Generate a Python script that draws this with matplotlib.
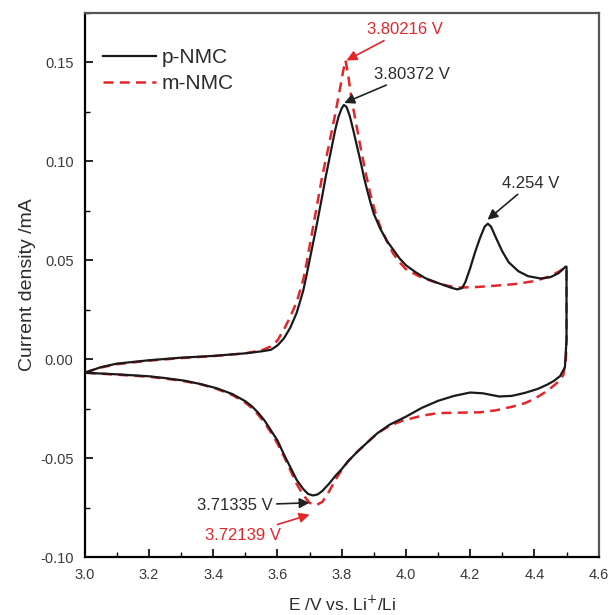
import matplotlib
matplotlib.use("Agg")
import matplotlib.pyplot as plt
from matplotlib.ticker import MultipleLocator, FormatStrFormatter

plt.rcParams["font.family"] = ["Liberation Sans", "DejaVu Sans"]

# --------------------------------
# CV DATA
# --------------------------------

# p-NMC, anodic sweep 3.0 -> 4.5 V
p_fwd_v = [3.00, 3.05, 3.10, 3.20, 3.30, 3.40, 3.50, 3.55, 3.58, 3.60, 3.62, 3.64,
           3.66, 3.68, 3.69, 3.70, 3.71, 3.72, 3.73, 3.74, 3.75, 3.76, 3.77, 3.78,
           3.79, 3.80, 3.807, 3.815, 3.825, 3.835, 3.85, 3.86, 3.87, 3.88, 3.89,
           3.90, 3.92, 3.94, 3.96, 3.98, 4.00, 4.03, 4.06, 4.10, 4.14, 4.16, 4.175,
           4.185, 4.20, 4.215, 4.23, 4.245, 4.255, 4.265, 4.28, 4.30, 4.32, 4.35,
           4.38, 4.42, 4.45, 4.475, 4.497]
p_fwd_i = [-0.0068, -0.0040, -0.0022, -0.0005, 0.0008, 0.0017, 0.0030, 0.0040,
           0.0048, 0.0070, 0.0105, 0.0160, 0.0235, 0.0345, 0.0420, 0.0500, 0.0580,
           0.0660, 0.0745, 0.0830, 0.0920, 0.1000, 0.1080, 0.1160, 0.1225, 0.1268,
           0.1285, 0.1275, 0.1230, 0.1165, 0.1060, 0.0990, 0.0915, 0.0850, 0.0790,
           0.0735, 0.0660, 0.0600, 0.0555, 0.0510, 0.0475, 0.0440, 0.0410, 0.0385,
           0.0362, 0.0353, 0.0360, 0.0390, 0.0460, 0.0540, 0.0610, 0.0670, 0.0685,
           0.0670, 0.0615, 0.0545, 0.0490, 0.0445, 0.0420, 0.0408, 0.0415, 0.0435,
           0.0468]

# p-NMC, cathodic sweep 4.5 -> 3.0 V
p_rev_v = [4.50, 4.50, 4.495, 4.48, 4.46, 4.44, 4.41, 4.37, 4.33, 4.29, 4.24, 4.20,
           4.15, 4.10, 4.05, 4.00, 3.95, 3.91, 3.88, 3.85, 3.82, 3.80, 3.78, 3.76,
           3.74, 3.725, 3.71, 3.695, 3.68, 3.66, 3.64, 3.62, 3.60, 3.58, 3.56, 3.54,
           3.52, 3.50, 3.46, 3.41, 3.36, 3.31, 3.25, 3.20, 3.10, 3.00]
p_rev_i = [0.0468, 0.0100, -0.0040, -0.0085, -0.0110, -0.0128, -0.0150, -0.0170,
           -0.0185, -0.0188, -0.0172, -0.0168, -0.0185, -0.0210, -0.0245, -0.0290,
           -0.0330, -0.0375, -0.0420, -0.0465, -0.0515, -0.0555, -0.0590, -0.0630,
           -0.0665, -0.0683, -0.0688, -0.0680, -0.0655, -0.0610, -0.0545, -0.0480,
           -0.0410, -0.0360, -0.0310, -0.0270, -0.0237, -0.0212, -0.0176, -0.0146,
           -0.0125, -0.0108, -0.0095, -0.0086, -0.0076, -0.0068]

# m-NMC, anodic sweep
m_fwd_v = [3.00, 3.05, 3.10, 3.20, 3.30, 3.40, 3.50, 3.55, 3.58, 3.60, 3.62, 3.64,
           3.66, 3.68, 3.69, 3.70, 3.72, 3.74, 3.76, 3.78, 3.795, 3.805, 3.812,
           3.82, 3.83, 3.845, 3.86, 3.875, 3.89, 3.905, 3.92, 3.94, 3.96, 3.98,
           4.00, 4.04, 4.08, 4.12, 4.16, 4.22, 4.28, 4.34, 4.40, 4.45, 4.497]
m_fwd_i = [-0.0068, -0.0042, -0.0025, -0.0007, 0.0006, 0.0016, 0.0030, 0.0045,
           0.0065, 0.0095, 0.0150, 0.0215, 0.0290, 0.0400, 0.0480, 0.0570, 0.0750,
           0.0930, 0.1080, 0.1240, 0.1370, 0.1460, 0.1510, 0.1440, 0.1320, 0.1190,
           0.1060, 0.0940, 0.0830, 0.0740, 0.0670, 0.0600, 0.0535, 0.0490, 0.0455,
           0.0420, 0.0395, 0.0375, 0.0362, 0.0365, 0.0372, 0.0380, 0.0395, 0.0420,
           0.0462]

# m-NMC, cathodic sweep
m_rev_v = [4.50, 4.50, 4.498, 4.49, 4.47, 4.44, 4.40, 4.37, 4.33, 4.28, 4.23, 4.16,
           4.10, 4.05, 3.99, 3.95, 3.91, 3.88, 3.85, 3.82, 3.80, 3.78, 3.76, 3.74,
           3.72, 3.70, 3.68, 3.66, 3.64, 3.62, 3.60, 3.58, 3.56, 3.54, 3.52, 3.50,
           3.46, 3.41, 3.36, 3.30, 3.20, 3.10, 3.00]
m_rev_i = [0.0462, 0.0100, 0.0000, -0.0080, -0.0120, -0.0160, -0.0200, -0.0222,
           -0.0240, -0.0258, -0.0268, -0.0270, -0.0272, -0.0285, -0.0310, -0.0335,
           -0.0375, -0.0420, -0.0465, -0.0515, -0.0560, -0.0610, -0.0670, -0.0720,
           -0.0738, -0.0725, -0.0685, -0.0630, -0.0560, -0.0490, -0.0425, -0.0370,
           -0.0320, -0.0280, -0.0246, -0.0219, -0.0181, -0.0149, -0.0126, -0.0108,
           -0.0088, -0.0078, -0.0068]

RED = "#e3262b"
INK = "#2b2b2b"

# --------------------------------
# PLOT
# --------------------------------

fig = plt.figure(figsize=(6.14, 6.15), dpi=100)
ax = fig.add_axes([0.138, 0.094, 0.837, 0.885])

ax.plot(p_fwd_v + p_rev_v, p_fwd_i + p_rev_i, color="#1a1a1a", lw=1.6,
        label="p-NMC", zorder=3)
ax.plot(m_fwd_v + m_rev_v, m_fwd_i + m_rev_i, color=RED, lw=1.8,
        dashes=(4, 2.5), label="m-NMC", zorder=2)

ax.set_xlim(3.0, 4.6)
ax.set_ylim(-0.10, 0.175)
ax.xaxis.set_major_locator(MultipleLocator(0.2))
ax.xaxis.set_minor_locator(MultipleLocator(0.1))
ax.yaxis.set_major_locator(MultipleLocator(0.05))
ax.yaxis.set_minor_locator(MultipleLocator(0.025))
ax.xaxis.set_major_formatter(FormatStrFormatter("%.1f"))
ax.yaxis.set_major_formatter(FormatStrFormatter("%.2f"))
ax.tick_params(which="major", direction="in", length=6, width=1.2,
               labelsize=10.5, labelcolor="#3a3a3a", pad=8)
ax.tick_params(which="minor", direction="in", length=3.5, width=1.0)

for side in ["left", "bottom"]:
    ax.spines[side].set_linewidth(1.6)
for side in ["top", "right"]:
    ax.spines[side].set_linewidth(1.6)
    ax.spines[side].set_color("#555555")

ax.set_xlabel("E /V vs. Li$^{+}$/Li", fontsize=12.5, color=INK, labelpad=9)
ax.set_ylabel("Current density /mA", fontsize=14, color=INK, labelpad=3)

ax.legend(loc="upper left", bbox_to_anchor=(0.0, 0.97), frameon=False,
          fontsize=15, handlelength=2.5, handletextpad=0.3, labelspacing=0.35,
          labelcolor=INK)

# peak labels
arrow_k = dict(arrowstyle="-|>", color="#222222", lw=1.2, mutation_scale=15,
               shrinkA=1, shrinkB=0)
arrow_r = dict(arrowstyle="-|>", color=RED, lw=1.2, mutation_scale=15,
               shrinkA=1, shrinkB=0)

ax.annotate("3.80216 V", xy=(3.815, 0.151), xytext=(3.878, 0.1665),
            color=RED, fontsize=12, va="center", arrowprops=arrow_r)
ax.annotate("3.80372 V", xy=(3.808, 0.1295), xytext=(3.90, 0.144),
            color=INK, fontsize=12, va="center", arrowprops=arrow_k)
ax.annotate("4.254 V", xy=(4.254, 0.0705), xytext=(4.30, 0.089),
            color=INK, fontsize=12, va="center", arrowprops=arrow_k)
ax.annotate("3.71335 V", xy=(3.70, -0.0725), xytext=(3.585, -0.0738),
            color=INK, fontsize=12, va="center", ha="right",
            arrowprops=arrow_k)
ax.annotate("3.72139 V", xy=(3.70, -0.0785), xytext=(3.61, -0.0889),
            color=RED, fontsize=12, va="center", ha="right",
            arrowprops=arrow_r)

fig.savefig("out.png", dpi=100)
